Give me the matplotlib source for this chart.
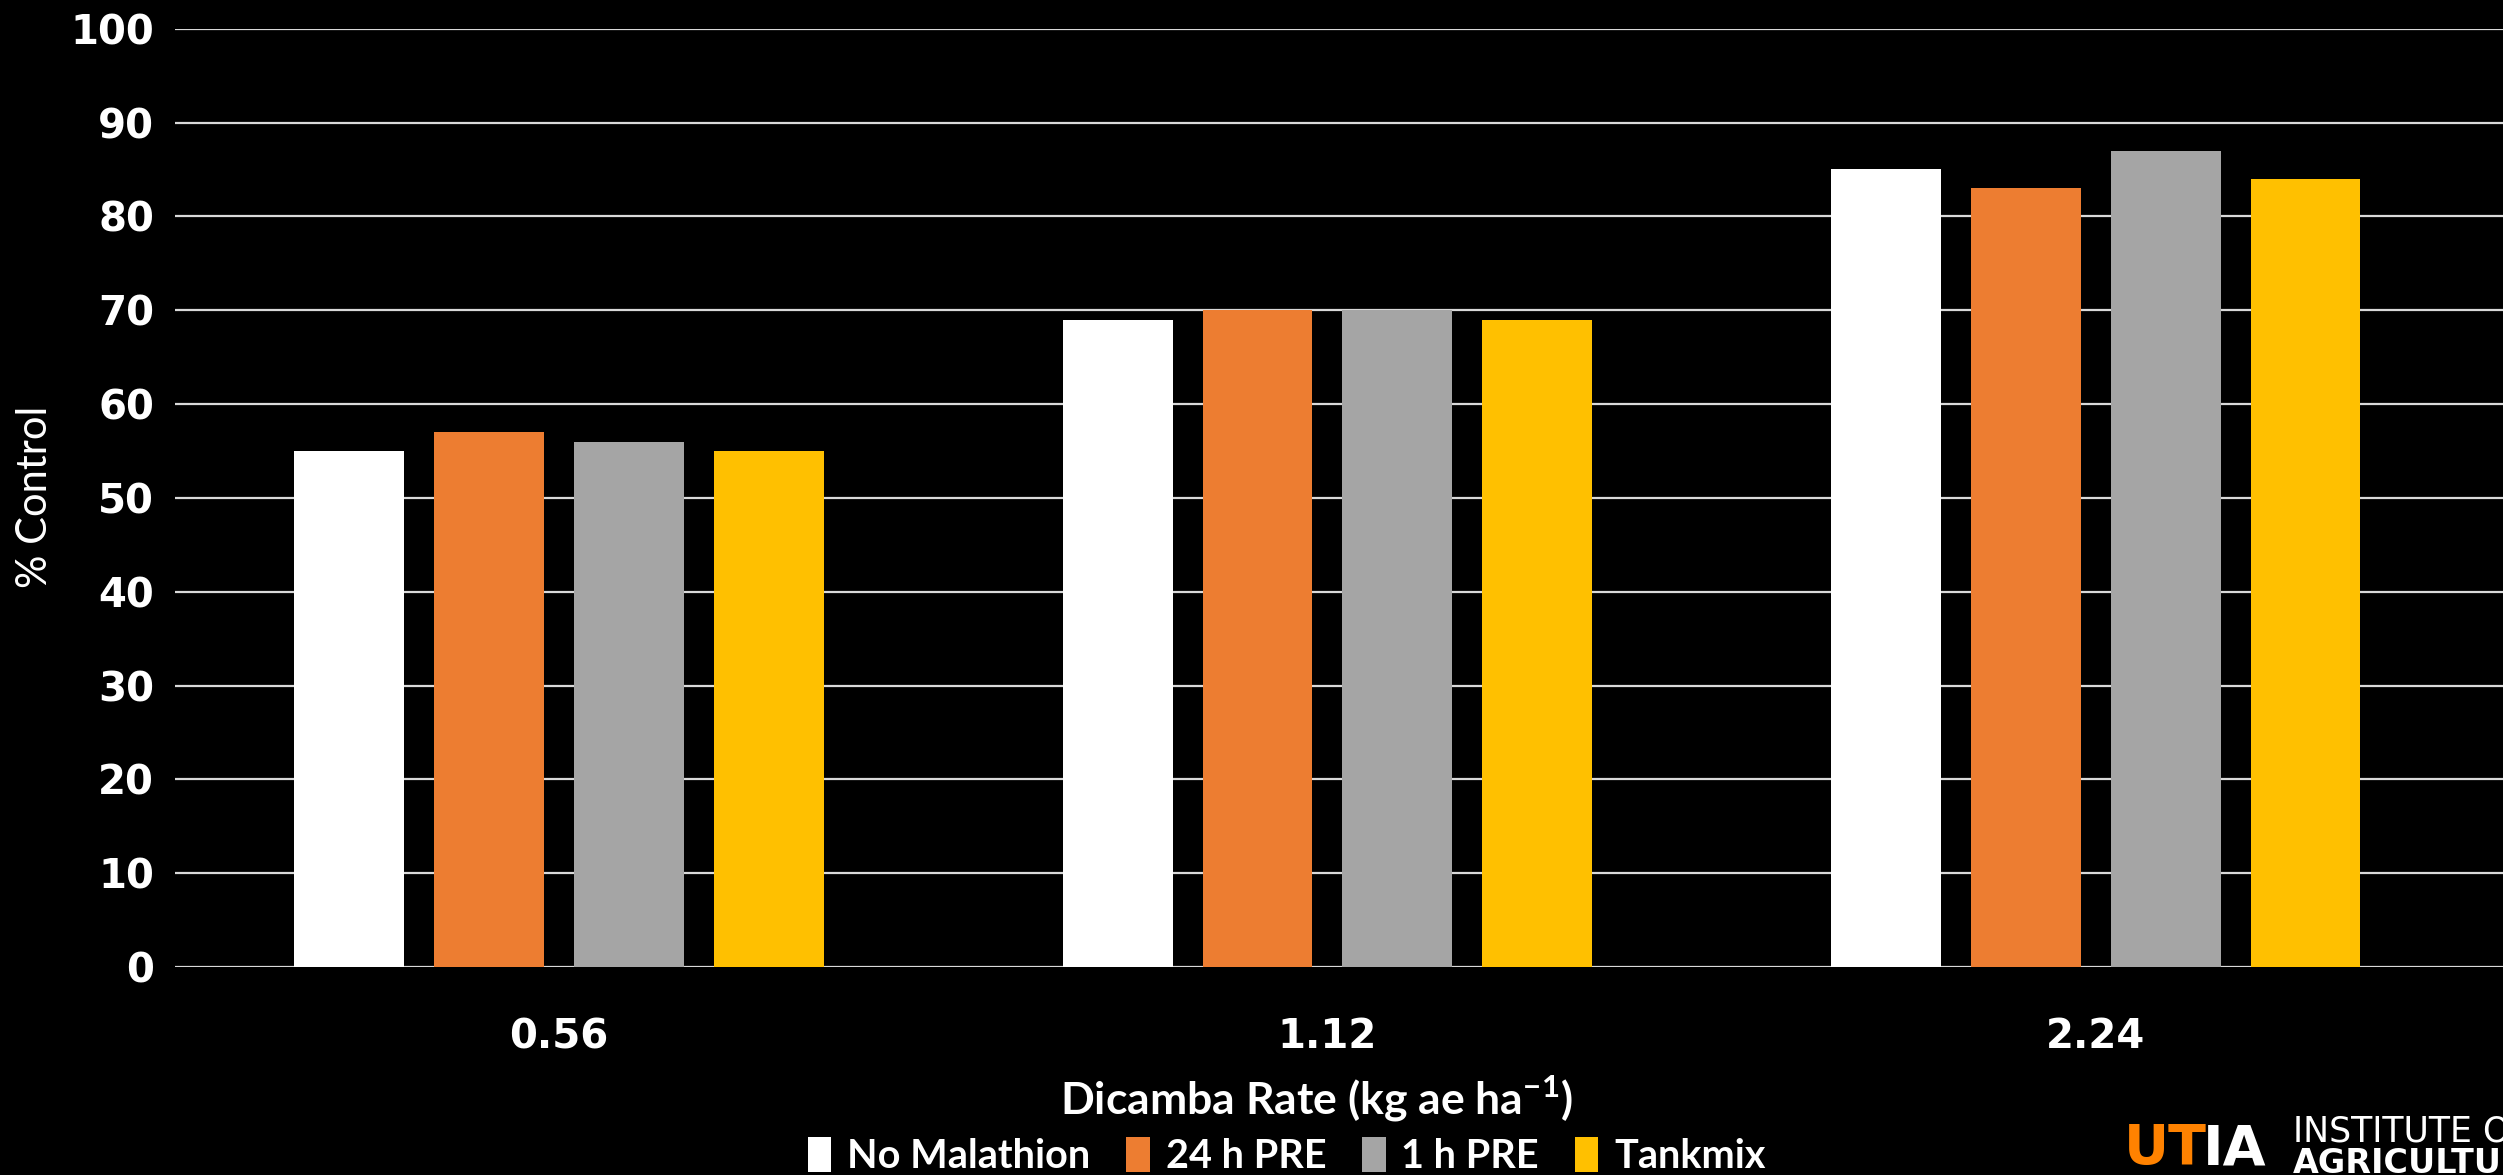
import numpy as np
import matplotlib.pyplot as plt
from matplotlib.patches import Patch

# datos
rates = ['0.56', '1.12', '2.24']
series = ['No Malathion', '24 h PRE', '1 h PRE', 'Tankmix']
no_malathion = [55, 69, 85]
pre_24h = [57, 70, 83]
pre_1h = [56, 70, 87]
tankmix = [55, 69, 84]
colors = ['#FFFFFF', '#ED7D31', '#A5A5A5', '#FFC000']

values = [no_malathion, pre_24h, pre_1h, tankmix]

fam = ['Lato', 'DejaVu Sans']

fig = plt.figure(figsize=(25.03, 11.75), dpi=100, facecolor='black')
ax = fig.add_axes([0.0699, 0.177, 0.9301, 0.7986])
ax.set_facecolor('black')

x = np.arange(len(rates))
step = 0.182
width = 0.143
for i, (vals, c) in enumerate(zip(values, colors)):
    ax.bar(x + (i - 1.5) * step, vals, width=width, color=c, zorder=3)

ax.set_xlim(-0.5, 2.53)
ax.set_ylim(0, 100)
ax.set_yticks(np.arange(0, 101, 10))
ax.yaxis.grid(True, color='#D9D9D9', linewidth=1.6, zorder=0)
for s in ax.spines.values():
    s.set_visible(False)
ax.tick_params(axis='both', length=0, colors='white')
ax.tick_params(axis='y', pad=15)
ax.tick_params(axis='x', pad=36)
ax.set_xticks(x)
ax.set_xticklabels(rates)
for lab in ax.get_yticklabels() + ax.get_xticklabels():
    lab.set_fontsize(29)
    lab.set_fontweight('bold')
    lab.set_family('DejaVu Sans')
    lab.set_color('white')

# título del eje y
fig.text(0.014, 0.577, '% Control', color='white', fontsize=30, family=fam,
         rotation=90, ha='center', va='center')
fig.text(0.526, 0.065, 'Dicamba Rate (kg ae ha$^{\\mathregular{-1}}$)', color='white',
         fontsize=32, fontweight='bold', family=fam, ha='center', va='center')

handles = [Patch(facecolor=c, edgecolor='none') for c in colors]
leg = fig.legend(handles, series, loc='center', bbox_to_anchor=(0.514, 0.016), ncol=4,
                 frameon=False, handlelength=0.6, handleheight=1.0, handletextpad=0.4,
                 columnspacing=0.9, prop={'family': fam, 'weight': 'bold', 'size': 28.5})
for t in leg.get_texts():
    t.set_color('white')

# logo UTIA (recortado en el borde derecho)
fig.text(0.8485, 0.022, 'UT', color='#FF8200', fontsize=40, fontweight='bold',
         family='DejaVu Sans', ha='left', va='center')
fig.text(0.8800, 0.022, 'IA', color='white', fontsize=40, fontweight='bold',
         family='DejaVu Sans', ha='left', va='center')
fig.text(0.9160, 0.037, 'INSTITUTE OF', color='white', fontsize=25,
         family='DejaVu Sans', ha='left', va='center')
fig.text(0.9160, 0.010, 'AGRICULTURE', color='white', fontsize=24, fontweight='bold',
         family='DejaVu Sans', ha='left', va='center')

fig.savefig('out.png', dpi=100, facecolor='black')
